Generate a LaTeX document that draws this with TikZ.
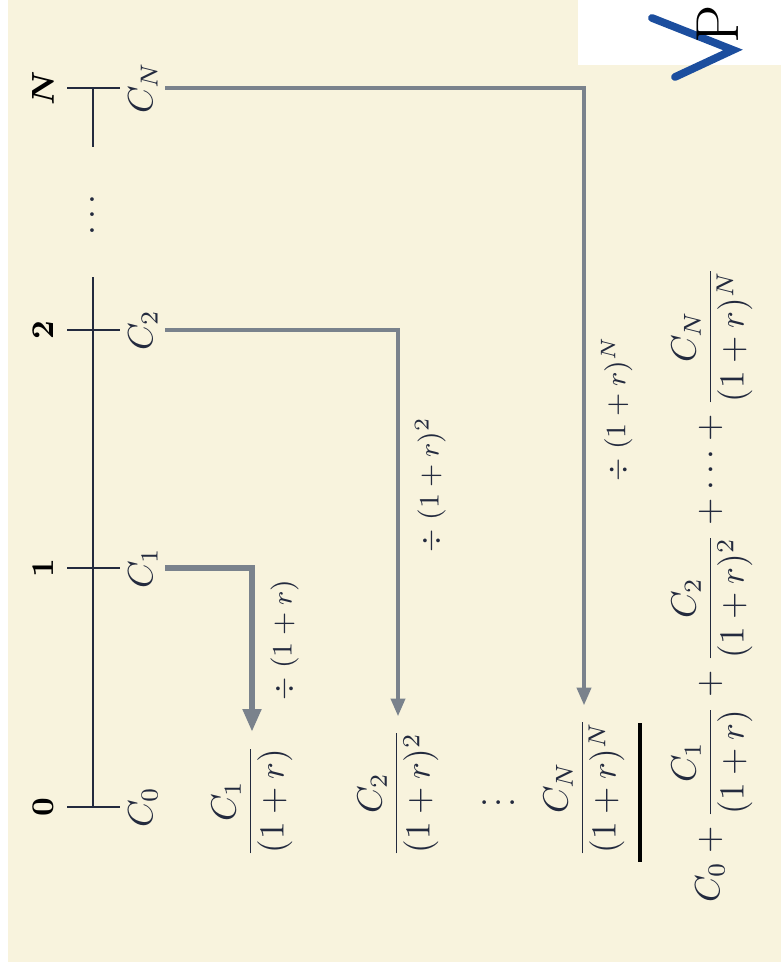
\documentclass[tikz,border=0pt]{standalone}
\usepackage{amsmath,amssymb}
\usepackage{xcolor}
\usetikzlibrary{positioning,arrows.meta}
\definecolor{paper}{RGB}{248,243,221}
\definecolor{ink}{RGB}{35,42,62}
\definecolor{arrowgray}{RGB}{122,130,140}
\definecolor{logoblue}{RGB}{28,78,158}

\begin{document}
\begin{tikzpicture}[x=0.01cm, y=-0.01cm, rotate=90, transform shape,
  num/.style={font=\small\boldmath, text=black},
  cval/.style={text=ink, inner sep=2pt},
  frac/.style={text=ink, anchor=west},
  flow/.style={draw=arrowgray, line width=1pt, -{Triangle[length=5pt, width=4pt]}},
  bigflow/.style={flow, line width=1.8pt, -{Triangle[length=6.5pt, width=5pt]}},
  lbl/.style={font=\footnotesize, text=ink, below=1pt},
  axis/.style={draw=ink, line width=0.6pt}]
\useasboundingbox (0,0) rectangle (970,781);
\fill[paper] (8,8) rectangle (970,781);
\fill[white] (905,578) rectangle (970,781);
\foreach \k/\x in {0/163, 1/402, 2/640, N/882}{
  \coordinate (p\k) at (\x,93);
  \draw[axis] (\x,67) -- (\x,120);
  \node[num] (n\k) at (\x,43) {$\k$};
  \node[cval] (c\k) at (\x,143) {$C_{\k}$};
}
\coordinate (gapl) at (693,93);
\coordinate (gapr) at (823,93);
\draw[axis] (p0) -- (gapl);
\draw[axis] (gapr) -- (pN);
\node[text=ink] (hdots) at (758,93) {$\cdots$};
\node[frac] (f1) at (100,252) {$\dfrac{C_1}{(1+r)}$};
\node[frac] (f2) at (100,398) {$\dfrac{C_2}{(1+r)^2}$};
\node[text=ink] (vd) at (167,488) {$\vdots$};
\node[frac] (fN) at (100,584) {$\dfrac{C_N}{(1+r)^N}$};
\draw[black, line width=1.3pt] (108,640) -- (247,640);
\node[text=ink, anchor=west] (total) at (55,712)
  {$C_0 + \dfrac{C_1}{(1+r)} + \dfrac{C_2}{(1+r)^2} + \cdots + \dfrac{C_N}{(1+r)^N}$};
\foreach \k/\s/\p/\e in {1/bigflow/0.72/{}, 2/flow/0.70/^2, N/flow/0.76/^N}{
  \draw[\s] (c\k.south) |- (f\k.east) node[pos=\p, lbl] {$\div\;(1+r)\e$};
}
\draw[logoblue, line width=2.2pt, line cap=round] (952,652) -- (920,733) -- (893,675);
\node[font=\LARGE] (plogo) at (946,718) {P};
\end{tikzpicture}
\end{document}
